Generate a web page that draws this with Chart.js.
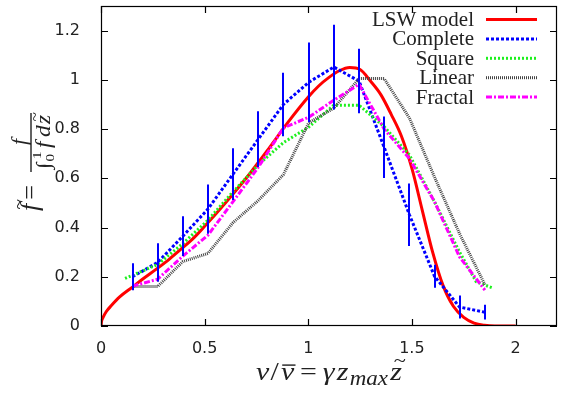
<!DOCTYPE html>
<html>
<head>
<meta charset="utf-8">
<script src="https://cdn.jsdelivr.net/npm/chart.js@4.4.0/dist/chart.umd.min.js"></script>
<style>
  html, body { margin: 0; padding: 0; background: #fff; }
</style>
</head>
<body>
<canvas id="myChart" width="565" height="395"></canvas>
<script>
// bin centres of the simulation histograms
var binX = [0.152, 0.273, 0.395, 0.516, 0.637, 0.759, 0.880, 1.002, 1.123, 1.245, 1.366, 1.488, 1.609, 1.730, 1.852];

var completeY   = [0.200, 0.258, 0.365, 0.475, 0.617, 0.759, 0.900, 0.990, 1.052, 0.995, 0.726, 0.452, 0.202, 0.077, 0.056];
var completeErr = [0.055, 0.078, 0.081, 0.100, 0.105, 0.113, 0.129, 0.162, 0.172, 0.131, 0.125, 0.127, 0.047, 0.047, 0.030];

var linearY  = [0.160, 0.160, 0.262, 0.295, 0.420, 0.510, 0.615, 0.825, 0.885, 1.005, 1.005, 0.845, 0.605, 0.375, 0.168];
var fractalY = [0.162, 0.190, 0.284, 0.369, 0.505, 0.645, 0.805, 0.848, 0.917, 0.982, 0.800, 0.680, 0.505, 0.280, 0.146];

var squareX = [0.116, 0.273, 0.395, 0.516, 0.637, 0.759, 0.880, 1.002, 1.123, 1.245, 1.366, 1.488, 1.609, 1.730, 1.810, 1.887];
var squareY = [0.193, 0.250, 0.335, 0.430, 0.545, 0.655, 0.745, 0.808, 0.897, 0.897, 0.810, 0.695, 0.505, 0.300, 0.180, 0.155];

// LSW model curve
var lswX = [0, 0.003, 0.01, 0.025, 0.05, 0.09, 0.15, 0.2, 0.27, 0.33, 0.39, 0.45, 0.5, 0.6, 0.7, 0.8, 0.9, 1.0, 1.05, 1.1, 1.15, 1.2, 1.25, 1.3, 1.35, 1.4, 1.45, 1.5, 1.55, 1.6, 1.65, 1.7, 1.75, 1.8, 1.85, 1.9, 2.0];
var lswY = [0, 0.02, 0.035, 0.058, 0.083, 0.118, 0.157, 0.19, 0.233, 0.272, 0.315, 0.36, 0.405, 0.5, 0.6, 0.71, 0.825, 0.93, 0.975, 1.01, 1.037, 1.05, 1.042, 0.995, 0.94, 0.86, 0.77, 0.64, 0.47, 0.3, 0.165, 0.08, 0.035, 0.012, 0.003, 0, 0];

var xTicks = [0, 0.5, 1, 1.5, 2];
var yTicks = [0, 0.2, 0.4, 0.6, 0.8, 1, 1.2];

function pts(xs, ys) {
    return xs.map(function(x, i) { return { x: x, y: ys[i] }; });
}

var serif = '"Liberation Serif", "Times New Roman", serif';

// draws a run of text pieces, returns its width
function drawRun(ctx, pieces, x, y, measureOnly) {
    var cx = x;
    pieces.forEach(function(p) {
        ctx.font = p.f;
        var w = ctx.measureText(p.t).width;
        if (!measureOnly) {
            ctx.fillText(p.t, cx, y + (p.dy || 0));
            if (p.deco === 'bar') {
                ctx.fillRect(cx + 1, y - p.size * 0.6, w, 1.4);
            } else if (p.deco === 'tilde') {
                ctx.font = (p.size * 0.75) + 'px ' + serif;
                var tw = ctx.measureText('~').width;
                ctx.fillText('~', cx + (w - tw) / 2 + p.size * 0.12, y - p.size * 0.5);
            }
        }
        cx += w + (p.gap || 0);
    });
    return cx - x;
}

// no label overflow padding, the frame is placed by hand
function fixPadding(axis) {
    axis.paddingTop = 0; axis.paddingBottom = 0;
    axis.paddingLeft = 0; axis.paddingRight = 0;
}

var errorBars = {
    id: 'errorBars',
    afterDatasetsDraw: function(chart) {
        var ctx = chart.ctx, xs = chart.scales.x, ys = chart.scales.y;
        ctx.save();
        ctx.strokeStyle = '#0000ff';
        ctx.lineWidth = 2;
        binX.forEach(function(x, i) {
            var px = Math.round(xs.getPixelForValue(x));
            ctx.beginPath();
            ctx.moveTo(px, ys.getPixelForValue(completeY[i] - completeErr[i]));
            ctx.lineTo(px, ys.getPixelForValue(completeY[i] + completeErr[i]));
            ctx.stroke();
        });
        ctx.restore();
    }
};

var decor = {
    id: 'decor',
    afterDraw: function(chart) {
        var ctx = chart.ctx, a = chart.chartArea;
        var xs = chart.scales.x, ys = chart.scales.y;
        ctx.save();
        ctx.setLineDash([]);
        // frame and inward ticks on all sides
        ctx.strokeStyle = '#000';
        ctx.lineWidth = 1.2;
        ctx.strokeRect(a.left + 0.5, a.top + 0.5, a.right - a.left - 1, a.bottom - a.top - 1);
        ctx.beginPath();
        xTicks.forEach(function(v) {
            var px = Math.round(xs.getPixelForValue(v)) + 0.5;
            ctx.moveTo(px, a.bottom); ctx.lineTo(px, a.bottom - 7);
            ctx.moveTo(px, a.top); ctx.lineTo(px, a.top + 7);
        });
        yTicks.forEach(function(v) {
            var py = Math.round(ys.getPixelForValue(v)) + 0.5;
            ctx.moveTo(a.left, py); ctx.lineTo(a.left + 7, py);
            ctx.moveTo(a.right, py); ctx.lineTo(a.right - 7, py);
        });
        ctx.stroke();

        // legend: text right aligned, sample on the right
        ctx.textBaseline = 'middle';
        chart.data.datasets.forEach(function(ds, i) {
            var y = 19.5 + i * 19.4;
            ctx.font = '21px ' + serif;
            ctx.fillStyle = '#222';
            ctx.textAlign = 'right';
            ctx.fillText(ds.label, 474, y + 1);
            ctx.strokeStyle = ds.borderColor;
            ctx.lineWidth = ds.borderWidth;
            ctx.setLineDash(ds.borderDash || []);
            ctx.beginPath();
            ctx.moveTo(486, y); ctx.lineTo(537, y);
            ctx.stroke();
            ctx.setLineDash([]);
        });

        // x axis title
        ctx.textAlign = 'left';
        ctx.textBaseline = 'alphabetic';
        ctx.fillStyle = '#222';
        var s = 26, it = 'italic ' + s + 'px ' + serif, up = s + 'px ' + serif, sm = 'italic 20px ' + serif;
        var xt = [
            { t: 'v', f: it, gap: 1 },
            { t: '/', f: up, gap: 2 },
            { t: 'v', f: it, deco: 'bar', size: s, gap: 5 },
            { t: '=', f: up, gap: 5 },
            { t: 'γ', f: it, gap: 2 },
            { t: 'z', f: it, gap: 1 },
            { t: 'max', f: sm, dy: 5, gap: 2 },
            { t: 'z', f: it, deco: 'tilde', size: s }
        ];
        var w = drawRun(ctx, xt, 0, 0, true);
        ctx.save();
        ctx.translate(256, 380);
        ctx.scale(146 / w, 1);
        drawRun(ctx, xt, 0, 0);
        ctx.restore();

        // y axis title, rotated
        ctx.translate(31, 168);
        ctx.rotate(-Math.PI / 2);
        var yt = [
            { t: 'f', f: it, deco: 'tilde', size: s, gap: 4 },
            { t: '=', f: up }
        ];
        var w2 = drawRun(ctx, yt, 0, 0, true);
        drawRun(ctx, yt, -17 - w2, 7);
        ctx.fillRect(-4, -0.7, 59, 1.4);
        ctx.font = 'italic 22px ' + serif;
        var fw = ctx.measureText('f').width;
        ctx.fillText('f', 26 - fw / 2, -5);
        var d = 20, di = 'italic ' + d + 'px ' + serif;
        var den = [
            { t: '∫', f: d + 'px ' + serif, gap: 1 },
            { t: '0', f: '13px ' + serif, dy: 4, gap: 5 },
            { t: 'f', f: di, gap: 4 },
            { t: 'd', f: di, gap: 1 },
            { t: 'z', f: di, deco: 'tilde', size: d }
        ];
        var w3 = drawRun(ctx, den, 0, 0, true);
        ctx.save();
        ctx.translate(26 - 54 / 2, 19);
        ctx.scale(54 / w3, 1);
        drawRun(ctx, den, 0, 0);
        ctx.font = d + 'px ' + serif;
        var iw = ctx.measureText('∫').width;
        ctx.font = '13px ' + serif;
        ctx.fillText('1', iw + 3, -9);
        ctx.restore();
        ctx.restore();
    }
};

var ctx = document.getElementById('myChart').getContext('2d');
var myChart = new Chart(ctx, {
    type: 'scatter',
    data: {
        datasets: [{
            label: 'LSW model',
            data: pts(lswX, lswY),
            borderColor: '#ff0000',
            borderWidth: 3,
            cubicInterpolationMode: 'monotone',
            order: 5
        }, {
            label: 'Complete',
            data: pts(binX, completeY),
            borderColor: '#0000ff',
            borderWidth: 3,
            borderDash: [3, 2],
            order: 4
        }, {
            label: 'Square',
            data: pts(squareX, squareY),
            borderColor: '#1ef01e',
            borderWidth: 3,
            borderDash: [2, 2],
            order: 3
        }, {
            label: 'Linear',
            data: pts(binX, linearY),
            borderColor: '#444444',
            borderWidth: 3,
            borderDash: [1, 1],
            order: 2
        }, {
            label: 'Fractal',
            data: pts(binX, fractalY),
            borderColor: '#ff00ff',
            borderWidth: 3,
            borderDash: [6, 2, 2, 2],
            order: 1
        }]
    },
    options: {
        responsive: false,
        animation: false,
        showLine: true,
        elements: { point: { radius: 0, hoverRadius: 0 }, line: { tension: 0, fill: false } },
        layout: { padding: { left: 0, right: 8, top: 6, bottom: 0 } },
        scales: {
            x: {
                type: 'linear',
                min: 0,
                max: 2.2,
                afterBuildTicks: function(axis) { axis.ticks = xTicks.map(function(v) { return { value: v }; }); },
                afterFit: function(axis) { axis.height = 69; fixPadding(axis); },
                grid: { display: false },
                border: { display: false },
                ticks: {
                    padding: 5,
                    maxRotation: 0,
                    color: '#222',
                    font: { family: '"DejaVu Sans", sans-serif', size: 16 },
                    callback: function(v) { return String(v); }
                }
            },
            y: {
                min: 0,
                max: 1.3,
                afterBuildTicks: function(axis) { axis.ticks = yTicks.map(function(v) { return { value: v }; }); },
                afterFit: function(axis) { axis.width = 101; fixPadding(axis); },
                grid: { display: false },
                border: { display: false },
                ticks: {
                    padding: 13,
                    color: '#222',
                    font: { family: '"DejaVu Sans", sans-serif', size: 16 },
                    callback: function(v) { return String(v); }
                }
            }
        },
        plugins: {
            legend: { display: false },
            tooltip: { enabled: false }
        }
    },
    plugins: [errorBars, decor]
});
</script>
</body>
</html>
